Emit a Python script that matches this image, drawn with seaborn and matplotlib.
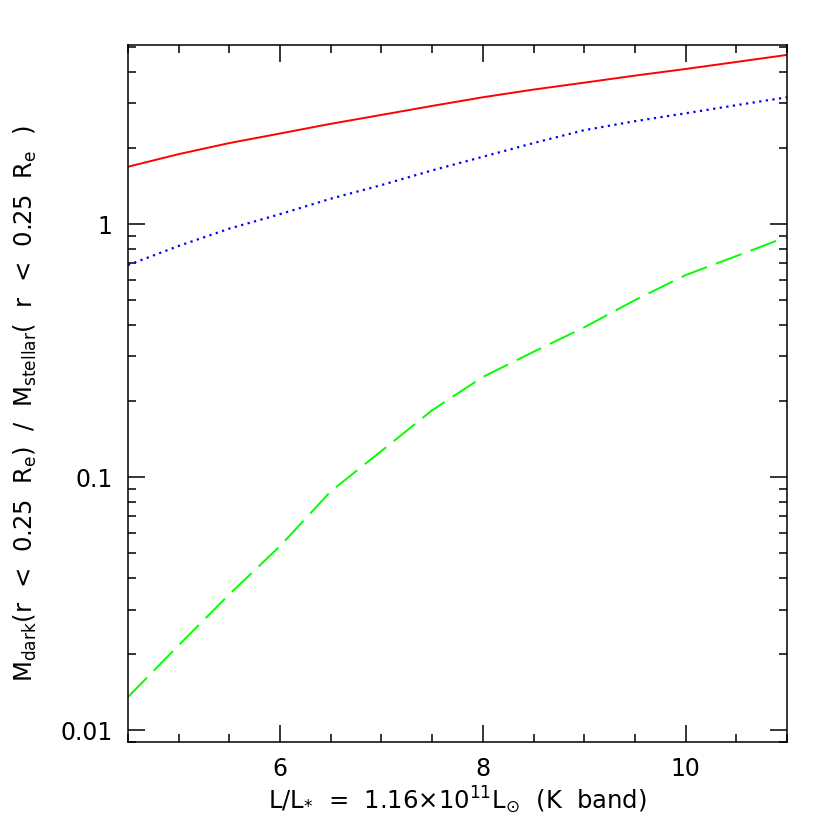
import numpy as np
import pandas as pd
import seaborn as sns
import matplotlib
matplotlib.use("Agg")
import matplotlib.pyplot as plt
from matplotlib.ticker import FixedLocator, LogLocator, NullFormatter, FixedFormatter, MultipleLocator

# Data
lum = [4.5, 5.0, 5.5, 6.0, 6.5, 7.0, 7.5, 8.0, 8.5, 9.0, 9.5, 10.0, 10.5, 11.0]
red_solid = [1.685, 1.89, 2.09, 2.28, 2.49, 2.70, 2.93, 3.17, 3.40, 3.62, 3.86, 4.10, 4.37, 4.66]
blue_dotted = [0.689, 0.82, 0.96, 1.095, 1.26, 1.426, 1.63, 1.845, 2.09, 2.35, 2.55, 2.74, 2.95, 3.17]
green_dashed = [0.01355, 0.0217, 0.0345, 0.0535, 0.088, 0.127, 0.184, 0.249, 0.313, 0.391, 0.501, 0.629, 0.748, 0.891]

x_major = [6, 8, 10]
x_labels = ["6", "8", "10"]
y_major = [0.01, 0.1, 1]
y_labels = ["0.01", "0.1", "1"]

df = pd.DataFrame({"x": lum, "red": red_solid, "blue": blue_dotted, "green": green_dashed})

sns.set_theme(style="ticks")
plt.rcParams["font.family"] = ["DejaVu Sans"]
plt.rcParams["text.color"] = "black"
plt.rcParams["axes.labelcolor"] = "black"
plt.rcParams["xtick.color"] = "black"
plt.rcParams["ytick.color"] = "black"

fig = plt.figure(figsize=(8.3, 8.3), dpi=100)
ax = fig.add_axes([0.1542, 0.106, 0.7940, 0.8398])

sns.lineplot(data=df, x="x", y="red", ax=ax, color="#ff0000", lw=1.4)
sns.lineplot(data=df, x="x", y="blue", ax=ax, color="#0000ff", lw=1.6)
sns.lineplot(data=df, x="x", y="green", ax=ax, color="#00ff00", lw=1.4)
lines = ax.get_lines()
lines[1].set_linestyle((0, (1.0, 2.0)))
lines[2].set_linestyle((0, (14, 5)))

ax.set_yscale("log")
ax.set_xlim(4.5, 11)
ax.set_ylim(0.009, 5.1)

ax.xaxis.set_major_locator(FixedLocator(x_major))
ax.xaxis.set_major_formatter(FixedFormatter(x_labels))
ax.xaxis.set_minor_locator(MultipleLocator(0.5))
ax.yaxis.set_major_locator(FixedLocator(y_major))
ax.yaxis.set_major_formatter(FixedFormatter(y_labels))
ax.yaxis.set_minor_locator(LogLocator(base=10, subs=np.arange(2, 10)))
ax.yaxis.set_minor_formatter(NullFormatter())

ax.tick_params(which="both", direction="in", top=True, right=True, color="black",
               labelcolor="black", width=1.1)
ax.tick_params(which="major", length=12, labelsize=17, pad=11)
ax.tick_params(which="minor", length=6)
for s in ax.spines.values():
    s.set_visible(True)
    s.set_color("black")
    s.set_linewidth(1.1)

ax.set_xlabel(r"L/L$_{*}$  =  1.16$\times$10$^{11}$L$_{\odot}$  (K  band)", fontsize=17.5, labelpad=2)
ax.set_ylabel(r"M$_{\rm dark}$(r  <  0.25  R$_{\rm e}$)  /  M$_{\rm stellar}$(  r  <  0.25  R$_{\rm e}$  )",
              fontsize=17.5, labelpad=12)
ax.yaxis.set_label_coords(-0.135, 0.485)
ax.grid(False)
ax.set_facecolor("white")
fig.patch.set_facecolor("white")

fig.savefig("out.png", dpi=100, facecolor="white")
